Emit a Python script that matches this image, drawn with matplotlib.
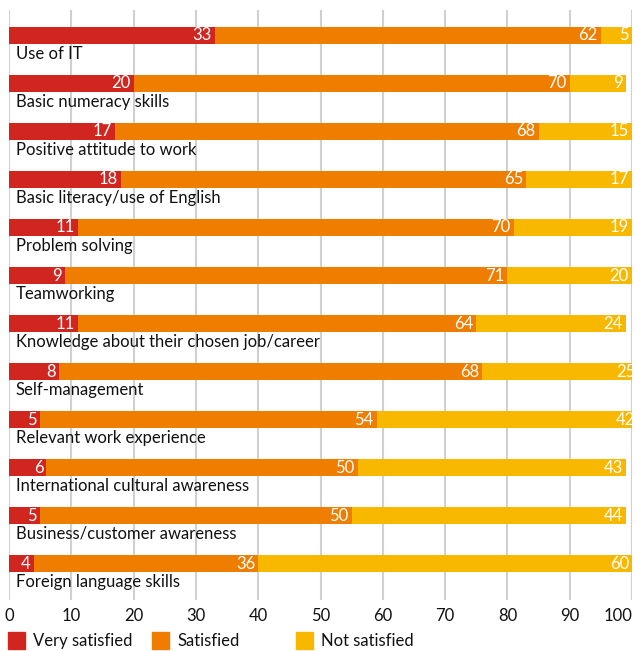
import numpy as np
import matplotlib.pyplot as plt
import matplotlib.transforms as mtransforms
from matplotlib.patches import Rectangle

plt.rcParams['font.family'] = ['Lato', 'DejaVu Sans']

skills = [
    "Use of IT",
    "Basic numeracy skills",
    "Positive attitude to work",
    "Basic literacy/use of English",
    "Problem solving",
    "Teamworking",
    "Knowledge about their chosen job/career",
    "Self-management",
    "Relevant work experience",
    "International cultural awareness",
    "Business/customer awareness",
    "Foreign language skills",
]
very_satisfied = [33, 20, 17, 18, 11, 9, 11, 8, 5, 6, 5, 4]
satisfied = [62, 70, 68, 65, 70, 71, 64, 68, 54, 50, 50, 36]
not_satisfied = [5, 9, 15, 17, 19, 20, 24, 25, 42, 43, 44, 60]

series = [very_satisfied, satisfied, not_satisfied]
names = ["Very satisfied", "Satisfied", "Not satisfied"]
colors = ["#d0261f", "#ef7d00", "#f9b800"]

fig = plt.figure(figsize=(6.35, 6.51), dpi=100)
ax = fig.add_axes([0.0142, 0.0783, 0.9811, 0.9063])

y = np.arange(len(skills))
left = np.zeros(len(skills))
for vals, c in zip(series, colors):
    vals = np.array(vals, dtype=float)
    ax.barh(y, vals, left=left, height=0.35, color=c, zorder=2)
    for yi, l, v in zip(y, left, vals):
        ax.text(l + v - 0.5, yi, str(int(v)), color="white", ha="right",
                va="center", fontsize=12, zorder=3)
    left += vals

for yi, s in zip(y, skills):
    ax.text(1.1, yi + 0.38, s, ha="left", va="center", fontsize=12,
            color="#111111", zorder=3)

ax.set_xlim(0, 100)
ax.set_ylim(11.76, -0.53)
ax.set_xticks(np.arange(0, 101, 10))
ax.set_yticks([])
ax.tick_params(axis="x", length=0, labelsize=12, pad=6, colors="#111111")
ax.grid(axis="x", color="#d0d0d0", lw=1.5, zorder=0)
for sp in ax.spines.values():
    sp.set_visible(False)

# nudge the "100" label so it fits inside the figure
last = ax.get_xticklabels()[-1]
last.set_transform(last.get_transform() +
                   mtransforms.ScaledTranslation(-14 / 100, 0, fig.dpi_scale_trans))

# legend drawn by hand so the spacing matches
legend_x = [8, 152, 296]
for px, c, n in zip(legend_x, colors, names):
    fig.add_artist(Rectangle((px / 635, 1 - 649 / 651), 17 / 635, 17 / 651,
                             transform=fig.transFigure, color=c))
    fig.text((px + 25) / 635, 1 - 641 / 651, n, ha="left", va="center",
             fontsize=12, color="#111111")

fig.savefig("out.png", dpi=100)
